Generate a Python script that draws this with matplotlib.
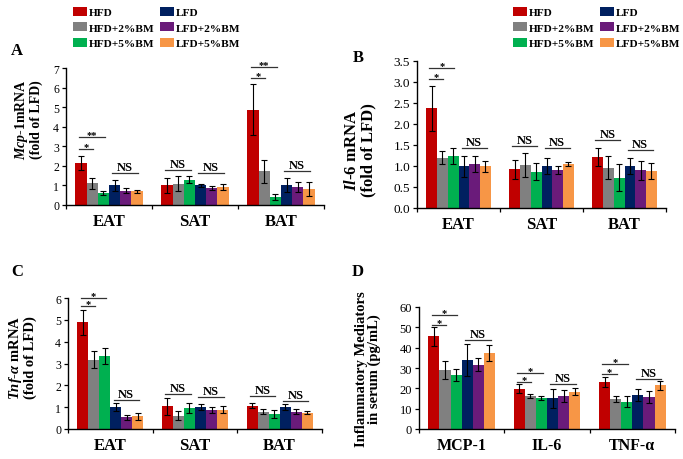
import numpy as np
import matplotlib
matplotlib.use("Agg")
import matplotlib.pyplot as plt
from matplotlib.patches import Patch

plt.rcParams['font.family'] = 'Liberation Serif'
plt.rcParams['mathtext.fontset'] = 'custom'
plt.rcParams['mathtext.it'] = 'Liberation Serif:italic:bold'
plt.rcParams['mathtext.rm'] = 'Liberation Serif:bold'
plt.rcParams['mathtext.bf'] = 'Liberation Serif:bold'

series = ["HFD", "HFD+2%BM", "HFD+5%BM", "LFD", "LFD+2%BM", "LFD+5%BM"]
colors = ["#C00000", "#808080", "#00B050", "#002060", "#6A1B7A", "#F79646"]
tissues = ["EAT", "SAT", "BAT"]
mediators = ["MCP-1", "IL-6", "TNF-α"]

# rows = groups, columns = series
mcp1_mean = [[2.15, 1.11, 0.60, 1.00, 0.74, 0.70],
             [1.00, 1.09, 1.30, 1.00, 0.88, 0.92],
             [4.87, 1.72, 0.43, 1.00, 0.90, 0.82]]
mcp1_err = [[0.37, 0.27, 0.10, 0.30, 0.12, 0.07],
            [0.40, 0.37, 0.17, 0.07, 0.10, 0.15],
            [1.30, 0.60, 0.15, 0.36, 0.25, 0.34]]

il6_mean = [[2.37, 1.20, 1.24, 1.00, 1.05, 0.99],
            [0.92, 1.02, 0.86, 1.00, 0.90, 1.05],
            [1.21, 0.96, 0.72, 1.00, 0.90, 0.88]]
il6_err = [[0.53, 0.16, 0.19, 0.25, 0.20, 0.14],
           [0.22, 0.28, 0.20, 0.20, 0.10, 0.05],
           [0.22, 0.28, 0.32, 0.19, 0.23, 0.20]]

tnf_mean = [[4.88, 3.18, 3.35, 1.00, 0.54, 0.58],
            [1.04, 0.61, 0.95, 1.00, 0.87, 0.89],
            [1.07, 0.80, 0.69, 1.00, 0.80, 0.75]]
tnf_err = [[0.57, 0.40, 0.35, 0.19, 0.12, 0.15],
           [0.40, 0.22, 0.23, 0.15, 0.12, 0.16],
           [0.12, 0.13, 0.18, 0.13, 0.10, 0.06]]

serum_mean = [[45.6, 29.1, 26.6, 34.0, 31.7, 37.5],
              [19.9, 16.1, 15.3, 15.1, 16.3, 18.4],
              [23.0, 14.8, 13.5, 16.6, 15.8, 21.4]]
serum_err = [[4.6, 4.5, 3.0, 7.9, 3.0, 4.0],
             [2.0, 0.9, 0.8, 4.6, 3.0, 1.7],
             [2.5, 1.5, 2.6, 3.0, 3.0, 2.0]]

# significance brackets: (group, first bar, last bar, height, label)
sig_a = [(0, 0, 1, 2.88, "*"), (0, 0, 2, 3.45, "**"), (0, 3, 5, 1.63, "NS"),
         (1, 0, 2, 1.80, "NS"), (1, 3, 5, 1.62, "NS"),
         (2, 0, 1, 6.48, "*"), (2, 0, 2, 7.07, "**"), (2, 3, 5, 1.75, "NS")]
sig_b = [(0, 0, 1, 3.06, "*"), (0, 0, 2, 3.33, "*"), (0, 3, 5, 1.44, "NS"),
         (1, 0, 2, 1.48, "NS"), (1, 3, 5, 1.43, "NS"),
         (2, 0, 2, 1.63, "NS"), (2, 3, 5, 1.39, "NS")]
sig_c = [(0, 0, 1, 5.62, "*"), (0, 0, 2, 6.00, "*"), (0, 3, 5, 1.33, "NS"),
         (1, 0, 2, 1.60, "NS"), (1, 3, 5, 1.46, "NS"),
         (2, 0, 2, 1.50, "NS"), (2, 3, 5, 1.28, "NS")]
sig_d = [(0, 0, 1, 51.3, "*"), (0, 0, 2, 56.3, "*"), (0, 3, 5, 43.8, "NS"),
         (1, 0, 1, 23.1, "*"), (1, 0, 2, 27.7, "*"), (1, 3, 5, 22.0, "NS"),
         (2, 0, 1, 27.1, "*"), (2, 0, 2, 31.9, "*"), (2, 3, 5, 24.7, "NS")]

W, H = 683, 460
bw = 0.13


def frac(left, top, right, bottom):
    return [left / W, 1 - bottom / H, (right - left) / W, (bottom - top) / H]


def draw_panel(ax, means, errs, ylim, yticks, yfmt, xlabels, sigs, ylabel,
               ylabel_pos, ylabel_size, tick_size, group_size):
    means = np.array(means)
    errs = np.array(errs)
    centers = np.arange(3) + 0.5
    for i in range(6):
        ax.bar(centers + (i - 2.5) * bw, means[:, i], bw, color=colors[i],
               yerr=errs[:, i], linewidth=0,
               error_kw=dict(ecolor='black', elinewidth=0.8, capsize=2.2, capthick=0.8))
    for g, i0, i1, y, lab in sigs:
        x0 = g + 0.5 + (i0 - 2.5) * bw - 0.2 * bw
        x1 = g + 0.5 + (i1 - 2.5) * bw + 0.1 * bw
        ax.plot([x0, x1], [y, y], color='#333333', lw=0.9, clip_on=False)
        if lab == "NS":
            ax.text((x0 + x1) / 2, y, lab, ha='center', va='bottom', fontsize=9,
                    fontweight='bold', clip_on=False)
        else:
            ax.text((x0 + x1) / 2, y, lab, ha='center', va='baseline', fontsize=7.5,
                    fontweight='bold', clip_on=False)
    ax.set_xlim(0, 3)
    ax.set_ylim(*ylim)
    ax.set_yticks(yticks)
    ax.set_yticklabels([yfmt.format(v) for v in yticks], fontsize=tick_size)
    ax.set_xticks([0, 1, 2, 3])
    ax.set_xticklabels([])
    ax.set_xticks(centers, minor=True)
    ax.set_xticklabels(xlabels, minor=True, fontsize=group_size, fontweight='bold')
    ax.tick_params(axis='x', which='major', length=3, width=0.9, direction='out')
    ax.tick_params(axis='x', which='minor', length=0, pad=6)
    ax.tick_params(axis='y', length=3, width=0.9, direction='out', pad=2)
    for s in ['top', 'right']:
        ax.spines[s].set_visible(False)
    for s in ['left', 'bottom']:
        ax.spines[s].set_linewidth(1.0)
    ax.set_ylabel(ylabel, fontsize=ylabel_size, fontweight='bold', linespacing=1.0)
    ax.yaxis.set_label_coords(*ylabel_pos)


fig = plt.figure(figsize=(6.83, 4.60), dpi=100)
axA = fig.add_axes(frac(66, 69, 324, 206))
axB = fig.add_axes(frac(417, 62, 666, 209))
axC = fig.add_axes(frac(68, 299, 322, 430))
axD = fig.add_axes(frac(419, 308, 675, 430))

draw_panel(axA, mcp1_mean, mcp1_err, (0, 7), list(range(8)), "{:d}", tissues, sig_a,
           "$Mcp$-$1$mRNA\n(fold of LFD)", (-0.089, 0.63), 10, 8.5, 12)
draw_panel(axB, il6_mean, il6_err, (0, 3.5), [0, 0.5, 1, 1.5, 2, 2.5, 3, 3.5], "{:.1f}",
           tissues, sig_b, "$Il$-$6$ mRNA\n(fold of LFD)", (-0.165, 0.4), 12, 9.5, 12)
draw_panel(axC, tnf_mean, tnf_err, (0, 6), list(range(7)), "{:d}", tissues, sig_c,
           "$Tnf$-$\\alpha$ mRNA\n(fold of LFD)", (-0.122, 0.55), 10.5, 8.5, 12)
draw_panel(axD, serum_mean, serum_err, (0, 60), list(range(0, 70, 10)), "{:d}",
           mediators, sig_d, "Inflammatory Mediators\nin serum (pg/mL)", (-0.148, 0.5),
           10.5, 9, 11.5)

for lab, x, y in [("A", 17, 51), ("B", 358, 58), ("C", 17, 272), ("D", 358, 272)]:
    fig.text(x / W, 1 - y / H, lab, ha='center', va='center', fontsize=12, fontweight='bold')

handles = [Patch(facecolor=c, edgecolor='none') for c in colors]
for x0, y0 in [(73, 8), (513, 8)]:
    fig.legend(handles, series, loc='upper left', bbox_to_anchor=(x0 / W, 1 - y0 / H),
               ncol=2, frameon=False, prop=dict(family='Liberation Serif', weight='bold', size=8.2),
               handlelength=1.25, handleheight=0.8, handletextpad=0.15, columnspacing=0.45,
               labelspacing=0.45, borderpad=0, borderaxespad=0)

fig.savefig("out.png", dpi=100)
